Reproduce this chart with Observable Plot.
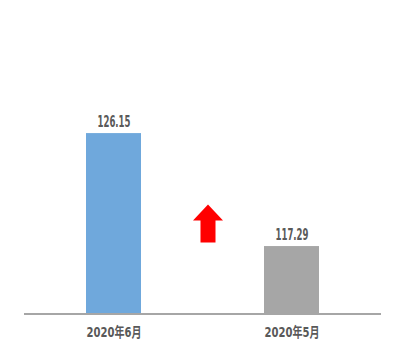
<!DOCTYPE html>
<html>
<head>
<meta charset="utf-8">
<script src="https://cdn.jsdelivr.net/npm/d3@7"></script>
<script src="https://cdn.jsdelivr.net/npm/@observablehq/plot@0.6"></script>
<style>
  html, body { margin: 0; padding: 0; background: #fff; }
</style>
</head>
<body>
<div id="chart"></div>
<script>
const categories = ["2020年6月", "2020年5月"];
const values = [126.15, 117.29];
const colors = ["#6fa8dc", "#a6a6a6"];
const yDomain = [112, 130];
const arrowLevel = [119.1];

const data = categories.map((c, i) => ({cat: c, value: values[i], color: colors[i]}));

const arrowSymbol = {
  draw(ctx) {
    ctx.moveTo(0, -19);
    ctx.lineTo(15, -3);
    ctx.lineTo(7.5, -3);
    ctx.lineTo(7.5, 19);
    ctx.lineTo(-7.5, 19);
    ctx.lineTo(-7.5, -3);
    ctx.lineTo(-15, -3);
    ctx.closePath();
  }
};

const font = "'DejaVu Sans', 'Noto Sans CJK SC', sans-serif";

const chart = Plot.plot({
  width: 400,
  height: 342,
  marginLeft: 24,
  marginRight: 19,
  marginTop: 84,
  marginBottom: 28.5,
  style: {fontFamily: font, background: "#fff"},
  x: {domain: categories, paddingInner: 0.69, paddingOuter: 0.345, label: null},
  y: {domain: yDomain, axis: null},
  marks: [
    Plot.barY(data, {x: "cat", y1: yDomain[0], y2: "value", fill: "color"}),
    Plot.ruleY([yDomain[0]], {stroke: "#a6a6a6", strokeWidth: 2}),
    Plot.text(data, {x: "cat", y: "value", text: d => d.value.toFixed(2), lineAnchor: "bottom", dy: -7, fontSize: 16, fontWeight: "bold", fill: "#595959", className: "vlabel"}),
    Plot.dot(arrowLevel, {y: d => d, dx: 5, symbol: arrowSymbol, fill: "#ff0000", stroke: "none"}),
    Plot.axisX({tickSize: 0, tickPadding: 13, fontSize: 14, fontWeight: "bold", color: "#595959", label: null, className: "xlabel"})
  ]
});
document.getElementById("chart").appendChild(chart);

// condense glyphs to mimic the narrow typeface of the original
function condense(selector, targetWidth) {
  chart.querySelectorAll(selector + " text").forEach(t => {
    t.setAttribute("textLength", targetWidth);
    t.setAttribute("lengthAdjust", "spacingAndGlyphs");
  });
}
condense(".vlabel", 33);
condense(".xlabel", 55);
</script>
</body>
</html>
